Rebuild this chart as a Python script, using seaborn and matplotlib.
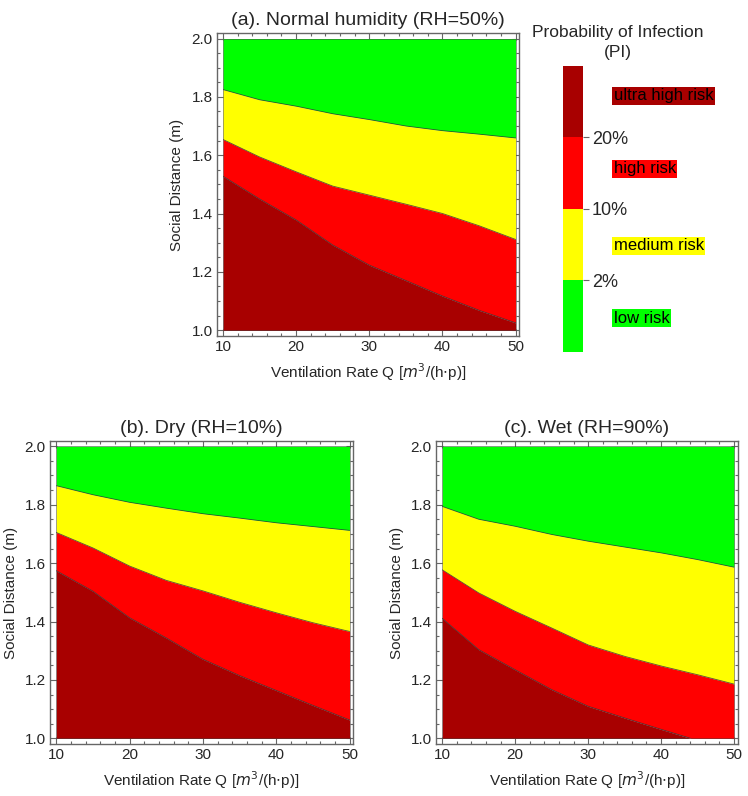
import numpy as np
import matplotlib
matplotlib.use("Agg")
import matplotlib.pyplot as plt
from matplotlib.colors import ListedColormap, BoundaryNorm
from matplotlib.cm import ScalarMappable
from matplotlib.patches import Rectangle
from matplotlib.ticker import MultipleLocator
import seaborn as sns

sns.set_style("ticks")
plt.rcParams['font.family'] = ['Liberation Sans', 'DejaVu Sans']

# ventilation rate Q (m3/(h.p)) sample points
q = [10, 15, 20, 25, 30, 35, 40, 45, 50]

# social distance (m) where PI crosses 2%, 10%, 20%
a_pi2 = [1.825, 1.790, 1.768, 1.742, 1.722, 1.700, 1.684, 1.672, 1.659]
a_pi10 = [1.654, 1.594, 1.543, 1.494, 1.463, 1.432, 1.400, 1.358, 1.311]
a_pi20 = [1.528, 1.450, 1.378, 1.292, 1.223, 1.170, 1.117, 1.068, 1.025]

b_pi2 = [1.865, 1.834, 1.808, 1.788, 1.769, 1.754, 1.738, 1.725, 1.712]
b_pi10 = [1.705, 1.652, 1.590, 1.541, 1.505, 1.466, 1.430, 1.396, 1.366]
b_pi20 = [1.574, 1.504, 1.413, 1.344, 1.271, 1.215, 1.164, 1.113, 1.063]

c_pi2 = [1.794, 1.750, 1.726, 1.698, 1.675, 1.655, 1.635, 1.612, 1.586]
c_pi10 = [1.577, 1.498, 1.435, 1.378, 1.320, 1.281, 1.248, 1.218, 1.186]
c_pi20 = [1.411, 1.304, 1.235, 1.167, 1.110, 1.070, 1.031, 0.993, 0.958]

titles = ["(a). Normal humidity (RH=50%)", "(b). Dry (RH=10%)", "(c). Wet (RH=90%)"]
risk_labels = ["low risk", "medium risk", "high risk", "ultra high risk"]
pi_ticks = ["2%", "10%", "20%"]
colors = ["#00FF00", "#FFFF00", "#FF0000", "#A80000"]

d_min, d_max = 1.0, 2.0


def risk_panel(ax, pi2, pi10, pi20, title):
    x = np.array(q, dtype=float)
    # plot region: Q 10..50, distance 1..2
    region = Rectangle((q[0], d_min), q[-1] - q[0], d_max - d_min, transform=ax.transData)
    arts = []
    arts.append(ax.fill_between(x, pi2, d_max, color=colors[0], lw=0))
    arts.append(ax.fill_between(x, pi10, pi2, color=colors[1], lw=0))
    arts.append(ax.fill_between(x, pi20, pi10, color=colors[2], lw=0))
    arts.append(ax.fill_between(x, 0.5, pi20, color=colors[3], lw=0))
    for b in (pi2, pi10, pi20):
        sns.lineplot(x=x, y=b, ax=ax, color="#333333", lw=0.6, alpha=0.8)
    for ln in ax.lines:
        arts.append(ln)
    for art in arts:
        art.set_clip_path(region)
    ax.add_patch(Rectangle((q[0], d_min), q[-1] - q[0], d_max - d_min, fill=False,
                           edgecolor='#444444', lw=0.5, alpha=0.7))
    ax.set_xlim(9.15, 50.5)
    ax.set_ylim(0.98, 2.018)
    ax.xaxis.set_major_locator(MultipleLocator(10))
    ax.xaxis.set_minor_locator(MultipleLocator(2))
    ax.yaxis.set_major_locator(MultipleLocator(0.2))
    ax.yaxis.set_minor_locator(MultipleLocator(0.05))
    ax.yaxis.set_major_formatter(plt.FormatStrFormatter('%.1f'))
    ax.tick_params(which='both', direction='in', top=True, right=True, color='#666666',
                   labelsize=11, width=0.8, pad=3)
    ax.tick_params(which='major', length=5)
    ax.tick_params(which='minor', length=2.5)
    for s in ax.spines.values():
        s.set_color('#666666')
        s.set_linewidth(1.0)
    ax.set_title(title, fontsize=14, pad=6)
    ax.set_xlabel("Ventilation Rate Q [$m^3$/(h$\\cdot$p)]", fontsize=11, labelpad=5)
    ax.set_ylabel("Social Distance (m)", fontsize=11, labelpad=5)


fig = plt.figure(figsize=(7.48, 7.96), dpi=100)
ax_a = fig.add_axes([0.2897, 0.5779, 0.4046, 0.3803])
ax_b = fig.add_axes([0.0668, 0.0650, 0.4055, 0.3810])
ax_c = fig.add_axes([0.5829, 0.0650, 0.4033, 0.3810])

risk_panel(ax_a, a_pi2, a_pi10, a_pi20, titles[0])
risk_panel(ax_b, b_pi2, b_pi10, b_pi20, titles[1])
risk_panel(ax_c, c_pi2, c_pi10, c_pi20, titles[2])

# colour key
cax = fig.add_axes([0.7531, 0.5582, 0.0259, 0.3593])
cmap = ListedColormap(colors)
norm = BoundaryNorm([0, 1, 2, 3, 4], cmap.N)
cb = fig.colorbar(ScalarMappable(norm=norm, cmap=cmap), cax=cax, ticks=[1, 2, 3])
cb.ax.set_yticklabels(pi_ticks)
cb.ax.minorticks_off()
cb.outline.set_visible(False)
cb.ax.tick_params(length=4.5, width=0.8, color='#666666', labelsize=13, pad=2)

fig.text(0.826, 0.9466, "Probability of Infection\n(PI)", ha='center', va='center',
         fontsize=12.5, linespacing=1.4)

label_y = [0.6005, 0.6910, 0.7877, 0.8794]
for lab, col, yy in zip(risk_labels, colors, label_y):
    fig.text(0.8205, yy, lab, ha='left', va='center', fontsize=12, color='black',
             bbox=dict(facecolor=col, edgecolor='none', pad=1.0))

fig.savefig("out.png", dpi=100)
